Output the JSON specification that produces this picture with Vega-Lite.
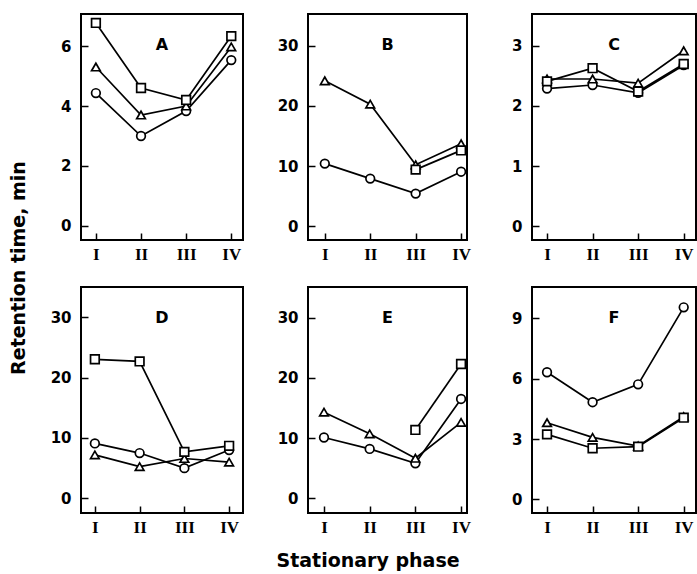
{
  "$schema": "https://vega.github.io/schema/vega-lite/v6.json",
  "padding": {"left": 10, "top": 13, "right": 0, "bottom": 0},
  "background": "white",
  "datasets": {
    "rt": [
      {"panel": "A", "series": "circle", "phase": 1, "rt": 4.43},
      {"panel": "A", "series": "circle", "phase": 2, "rt": 3.0},
      {"panel": "A", "series": "circle", "phase": 3, "rt": 3.83},
      {"panel": "A", "series": "circle", "phase": 4, "rt": 5.53},
      {"panel": "A", "series": "triangle", "phase": 1, "rt": 5.3},
      {"panel": "A", "series": "triangle", "phase": 2, "rt": 3.7},
      {"panel": "A", "series": "triangle", "phase": 3, "rt": 4.0},
      {"panel": "A", "series": "triangle", "phase": 4, "rt": 5.97},
      {"panel": "A", "series": "square", "phase": 1, "rt": 6.77},
      {"panel": "A", "series": "square", "phase": 2, "rt": 4.6},
      {"panel": "A", "series": "square", "phase": 3, "rt": 4.2},
      {"panel": "A", "series": "square", "phase": 4, "rt": 6.33},
      {"panel": "B", "series": "circle", "phase": 1, "rt": 10.4},
      {"panel": "B", "series": "circle", "phase": 2, "rt": 7.9},
      {"panel": "B", "series": "circle", "phase": 3, "rt": 5.4},
      {"panel": "B", "series": "circle", "phase": 4, "rt": 9.05},
      {"panel": "B", "series": "triangle", "phase": 1, "rt": 24.2},
      {"panel": "B", "series": "triangle", "phase": 2, "rt": 20.3},
      {"panel": "B", "series": "triangle", "phase": 3, "rt": 10.2},
      {"panel": "B", "series": "triangle", "phase": 4, "rt": 13.7},
      {"panel": "B", "series": "square", "phase": 3, "rt": 9.4},
      {"panel": "B", "series": "square", "phase": 4, "rt": 12.6},
      {"panel": "C", "series": "circle", "phase": 1, "rt": 2.29},
      {"panel": "C", "series": "circle", "phase": 2, "rt": 2.35},
      {"panel": "C", "series": "circle", "phase": 3, "rt": 2.22},
      {"panel": "C", "series": "circle", "phase": 4, "rt": 2.68},
      {"panel": "C", "series": "triangle", "phase": 1, "rt": 2.45},
      {"panel": "C", "series": "triangle", "phase": 2, "rt": 2.45},
      {"panel": "C", "series": "triangle", "phase": 3, "rt": 2.38},
      {"panel": "C", "series": "triangle", "phase": 4, "rt": 2.92},
      {"panel": "C", "series": "square", "phase": 1, "rt": 2.41},
      {"panel": "C", "series": "square", "phase": 2, "rt": 2.63},
      {"panel": "C", "series": "square", "phase": 3, "rt": 2.24},
      {"panel": "C", "series": "square", "phase": 4, "rt": 2.7},
      {"panel": "D", "series": "circle", "phase": 1, "rt": 9.1},
      {"panel": "D", "series": "circle", "phase": 2, "rt": 7.5},
      {"panel": "D", "series": "circle", "phase": 3, "rt": 5.0},
      {"panel": "D", "series": "circle", "phase": 4, "rt": 8.0},
      {"panel": "D", "series": "triangle", "phase": 1, "rt": 7.2},
      {"panel": "D", "series": "triangle", "phase": 2, "rt": 5.25},
      {"panel": "D", "series": "triangle", "phase": 3, "rt": 6.6},
      {"panel": "D", "series": "triangle", "phase": 4, "rt": 6.0},
      {"panel": "D", "series": "square", "phase": 1, "rt": 23.05},
      {"panel": "D", "series": "square", "phase": 2, "rt": 22.7},
      {"panel": "D", "series": "square", "phase": 3, "rt": 7.7},
      {"panel": "D", "series": "square", "phase": 4, "rt": 8.7},
      {"panel": "E", "series": "circle", "phase": 1, "rt": 10.1},
      {"panel": "E", "series": "circle", "phase": 2, "rt": 8.2},
      {"panel": "E", "series": "circle", "phase": 3, "rt": 5.8},
      {"panel": "E", "series": "circle", "phase": 4, "rt": 16.5},
      {"panel": "E", "series": "triangle", "phase": 1, "rt": 14.3},
      {"panel": "E", "series": "triangle", "phase": 2, "rt": 10.7},
      {"panel": "E", "series": "triangle", "phase": 3, "rt": 6.65},
      {"panel": "E", "series": "triangle", "phase": 4, "rt": 12.6},
      {"panel": "E", "series": "square", "phase": 3, "rt": 11.35},
      {"panel": "E", "series": "square", "phase": 4, "rt": 22.3},
      {"panel": "F", "series": "circle", "phase": 1, "rt": 6.32},
      {"panel": "F", "series": "circle", "phase": 2, "rt": 4.83},
      {"panel": "F", "series": "circle", "phase": 3, "rt": 5.72},
      {"panel": "F", "series": "circle", "phase": 4, "rt": 9.55},
      {"panel": "F", "series": "triangle", "phase": 1, "rt": 3.81},
      {"panel": "F", "series": "triangle", "phase": 2, "rt": 3.08},
      {"panel": "F", "series": "triangle", "phase": 3, "rt": 2.65},
      {"panel": "F", "series": "triangle", "phase": 4, "rt": 4.11},
      {"panel": "F", "series": "square", "phase": 1, "rt": 3.23},
      {"panel": "F", "series": "square", "phase": 2, "rt": 2.54},
      {"panel": "F", "series": "square", "phase": 3, "rt": 2.62},
      {"panel": "F", "series": "square", "phase": 4, "rt": 4.06}
    ]
  },
  "data": {"name": "rt"},
  "config": {
    "view": {"stroke": "black", "strokeWidth": 2},
    "axis": {"grid": false, "domain": false, "tickColor": "black", "tickWidth": 1.5, "tickSize": -7, "labelColor": "black"},
    "axisY": {"labelFont": "DejaVu Sans", "labelFontWeight": "bold", "labelFontSize": 15, "labelPadding": 17},
    "axisX": {"labelFont": "Liberation Serif", "labelFontWeight": "bold", "labelFontSize": 17, "labelPadding": 13},
    "title": {"font": "DejaVu Sans", "fontWeight": "bold", "fontSize": 16, "color": "black", "anchor": "middle", "frame": "group", "baseline": "top", "offset": -39},
    "concat": {"spacing": 65}
  },
  "title": {"text": "Retention time, min", "orient": "left", "font": "DejaVu Sans", "fontWeight": "bold", "fontSize": 19, "anchor": "middle", "frame": "bounds", "baseline": "bottom", "offset": 1, "dx": 24},
  "vconcat": [
    {
      "title": {"text": "Stationary phase", "orient": "bottom", "font": "DejaVu Sans", "fontWeight": "bold", "fontSize": 19, "anchor": "middle", "frame": "bounds", "baseline": "top", "offset": 16, "dx": -5},
      "columns": 3,
      "spacing": {"row": 47, "column": 65},
      "bounds": "flush",
      "concat": [
        {
          "width": 162, "height": 226,
          "title": {"text": "A"},
          "transform": [{"filter": "datum.panel === 'A'"}],
          "encoding": {
            "x": {"field": "phase", "type": "quantitative", "title": null, "scale": {"domain": [0.67, 4.26], "nice": false, "zero": false}, "axis": {"values": [1, 2, 3, 4], "labelExpr": "['','I','II','III','IV'][datum.value]"}},
            "y": {"field": "rt", "type": "quantitative", "title": null, "scale": {"domain": [-0.467, 7.067], "nice": false, "zero": false}, "axis": {"values": [0, 2, 4, 6]}}
          },
          "layer": [
            {"mark": {"type": "line", "color": "black", "strokeWidth": 1.7}, "encoding": {"detail": {"field": "series"}}},
            {"mark": {"type": "point", "filled": true, "fill": "white", "stroke": "black", "strokeWidth": 1.7, "size": 75, "opacity": 1}, "encoding": {"shape": {"field": "series", "type": "nominal", "scale": {"domain": ["circle", "triangle", "square"], "range": ["circle", "triangle-up", "square"]}, "legend": null}}}
          ]
        },
        {
          "width": 159, "height": 226,
          "title": {"text": "B"},
          "transform": [{"filter": "datum.panel === 'B'"}],
          "encoding": {
            "x": {"field": "phase", "type": "quantitative", "title": null, "scale": {"domain": [0.63, 4.13], "nice": false, "zero": false}, "axis": {"values": [1, 2, 3, 4], "labelExpr": "['','I','II','III','IV'][datum.value]"}},
            "y": {"field": "rt", "type": "quantitative", "title": null, "scale": {"domain": [-2.33, 35.33], "nice": false, "zero": false}, "axis": {"values": [0, 10, 20, 30]}}
          },
          "layer": [
            {"mark": {"type": "line", "color": "black", "strokeWidth": 1.7}, "encoding": {"detail": {"field": "series"}}},
            {"mark": {"type": "point", "filled": true, "fill": "white", "stroke": "black", "strokeWidth": 1.7, "size": 75, "opacity": 1}, "encoding": {"shape": {"field": "series", "type": "nominal", "scale": {"domain": ["circle", "triangle", "square"], "range": ["circle", "triangle-up", "square"]}, "legend": null}}}
          ]
        },
        {
          "width": 164, "height": 226,
          "title": {"text": "C"},
          "transform": [{"filter": "datum.panel === 'C'"}],
          "encoding": {
            "x": {"field": "phase", "type": "quantitative", "title": null, "scale": {"domain": [0.67, 4.27], "nice": false, "zero": false}, "axis": {"values": [1, 2, 3, 4], "labelExpr": "['','I','II','III','IV'][datum.value]"}},
            "y": {"field": "rt", "type": "quantitative", "title": null, "scale": {"domain": [-0.233, 3.533], "nice": false, "zero": false}, "axis": {"values": [0, 1, 2, 3]}}
          },
          "layer": [
            {"mark": {"type": "line", "color": "black", "strokeWidth": 1.7}, "encoding": {"detail": {"field": "series"}}},
            {"mark": {"type": "point", "filled": true, "fill": "white", "stroke": "black", "strokeWidth": 1.7, "size": 75, "opacity": 1}, "encoding": {"shape": {"field": "series", "type": "nominal", "scale": {"domain": ["circle", "triangle", "square"], "range": ["circle", "triangle-up", "square"]}, "legend": null}}}
          ]
        },
        {
          "width": 162, "height": 226,
          "title": {"text": "D"},
          "transform": [{"filter": "datum.panel === 'D'"}],
          "encoding": {
            "x": {"field": "phase", "type": "quantitative", "title": null, "scale": {"domain": [0.69, 4.31], "nice": false, "zero": false}, "axis": {"values": [1, 2, 3, 4], "labelExpr": "['','I','II','III','IV'][datum.value]"}},
            "y": {"field": "rt", "type": "quantitative", "title": null, "scale": {"domain": [-2.44, 35.04], "nice": false, "zero": false}, "axis": {"values": [0, 10, 20, 30]}}
          },
          "layer": [
            {"mark": {"type": "line", "color": "black", "strokeWidth": 1.7}, "encoding": {"detail": {"field": "series"}}},
            {"mark": {"type": "point", "filled": true, "fill": "white", "stroke": "black", "strokeWidth": 1.7, "size": 75, "opacity": 1}, "encoding": {"shape": {"field": "series", "type": "nominal", "scale": {"domain": ["circle", "triangle", "square"], "range": ["circle", "triangle-up", "square"]}, "legend": null}}}
          ]
        },
        {
          "width": 159, "height": 226,
          "title": {"text": "E"},
          "transform": [{"filter": "datum.panel === 'E'"}],
          "encoding": {
            "x": {"field": "phase", "type": "quantitative", "title": null, "scale": {"domain": [0.65, 4.13], "nice": false, "zero": false}, "axis": {"values": [1, 2, 3, 4], "labelExpr": "['','I','II','III','IV'][datum.value]"}},
            "y": {"field": "rt", "type": "quantitative", "title": null, "scale": {"domain": [-2.45, 35.1], "nice": false, "zero": false}, "axis": {"values": [0, 10, 20, 30]}}
          },
          "layer": [
            {"mark": {"type": "line", "color": "black", "strokeWidth": 1.7}, "encoding": {"detail": {"field": "series"}}},
            {"mark": {"type": "point", "filled": true, "fill": "white", "stroke": "black", "strokeWidth": 1.7, "size": 75, "opacity": 1}, "encoding": {"shape": {"field": "series", "type": "nominal", "scale": {"domain": ["circle", "triangle", "square"], "range": ["circle", "triangle-up", "square"]}, "legend": null}}}
          ]
        },
        {
          "width": 164, "height": 226,
          "title": {"text": "F"},
          "transform": [{"filter": "datum.panel === 'F'"}],
          "encoding": {
            "x": {"field": "phase", "type": "quantitative", "title": null, "scale": {"domain": [0.67, 4.27], "nice": false, "zero": false}, "axis": {"values": [1, 2, 3, 4], "labelExpr": "['','I','II','III','IV'][datum.value]"}},
            "y": {"field": "rt", "type": "quantitative", "title": null, "scale": {"domain": [-0.68, 10.56], "nice": false, "zero": false}, "axis": {"values": [0, 3, 6, 9]}}
          },
          "layer": [
            {"mark": {"type": "line", "color": "black", "strokeWidth": 1.7}, "encoding": {"detail": {"field": "series"}}},
            {"mark": {"type": "point", "filled": true, "fill": "white", "stroke": "black", "strokeWidth": 1.7, "size": 75, "opacity": 1}, "encoding": {"shape": {"field": "series", "type": "nominal", "scale": {"domain": ["circle", "triangle", "square"], "range": ["circle", "triangle-up", "square"]}, "legend": null}}}
          ]
        }
      ]
    }
  ]
}
